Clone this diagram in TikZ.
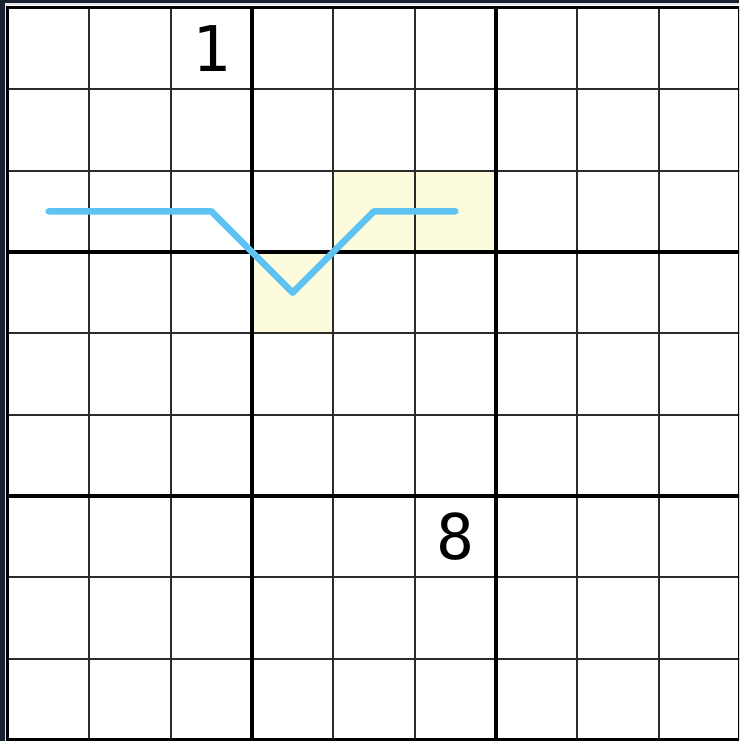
\documentclass[tikz,border=0pt]{standalone}
\usepackage{fontspec}
\setmainfont{DejaVu Sans Mono}
\definecolor{bgdark}{HTML}{1A2130}
\definecolor{hl}{HTML}{FCFCDC}
\definecolor{path}{HTML}{5EC3F2}
\definecolor{thin}{HTML}{2A2A2A}
\begin{document}
\begin{tikzpicture}[x=1pt,y=-1pt,
  thinline/.style={draw=thin,line width=1.9pt},
  thickline/.style={draw=black,line width=3.8pt},
  hlcell/.style={fill=hl},
  digit/.style={font=\fontsize{63}{63}\selectfont,inner sep=0pt,anchor=center},
  trail/.style={draw=path,line width=6.5pt,line cap=round,line join=round}]
\useasboundingbox (0,0) rectangle (739,741);
\begin{scope}
\clip (0,0) rectangle (739,741);
\fill[bgdark] (0,0) rectangle (739,741);
\fill[white!80!gray] (5,3.5) rectangle (760,760);
\fill[white] (6.5,5.5) rectangle (760,760);
\def\cs{81.33}
\def\ox{8}
\def\oy{8}
% highlighted cells
\fill[hl] (\ox+4*\cs,\oy+2*\cs) rectangle (\ox+6*\cs,\oy+3*\cs);
\fill[hl] (\ox+3*\cs,\oy+3*\cs) rectangle (\ox+4*\cs,\oy+4*\cs);
% thin lines
\foreach \i in {1,2,4,5,7,8} {
  \draw[thinline] (\ox+\i*\cs,\oy) -- (\ox+\i*\cs,\oy+9*\cs);
  \draw[thinline] (\ox,\oy+\i*\cs) -- (\ox+9*\cs,\oy+\i*\cs);
}
% thick lines
\foreach \i in {3,6} {
  \draw[thickline] (\ox+\i*\cs,\oy) -- (\ox+\i*\cs,\oy+9*\cs);
  \draw[thickline] (\ox,\oy+\i*\cs) -- (\ox+9*\cs,\oy+\i*\cs);
}
\draw[draw=black,line width=3.8pt] (\ox-0.5,\oy-0.5) rectangle (\ox+9*\cs,\oy+9*\cs);
% digits
\node[digit] (d1) at (\ox+2.5*\cs,\oy+0.5*\cs) {1};
\node[digit] (d8) at (\ox+5.5*\cs,\oy+6.5*\cs) {8};
% trail
\coordinate (p1) at (\ox+0.5*\cs,\oy+2.5*\cs);
\coordinate (p2) at (\ox+2.5*\cs,\oy+2.5*\cs);
\coordinate (p3) at (\ox+3.5*\cs,\oy+3.5*\cs);
\coordinate (p4) at (\ox+4.5*\cs,\oy+2.5*\cs);
\coordinate (p5) at (\ox+5.5*\cs,\oy+2.5*\cs);
\draw[trail] (p1) -- (p2) -- (p3) -- (p4) -- (p5);
\end{scope}
\end{tikzpicture}
\end{document}
